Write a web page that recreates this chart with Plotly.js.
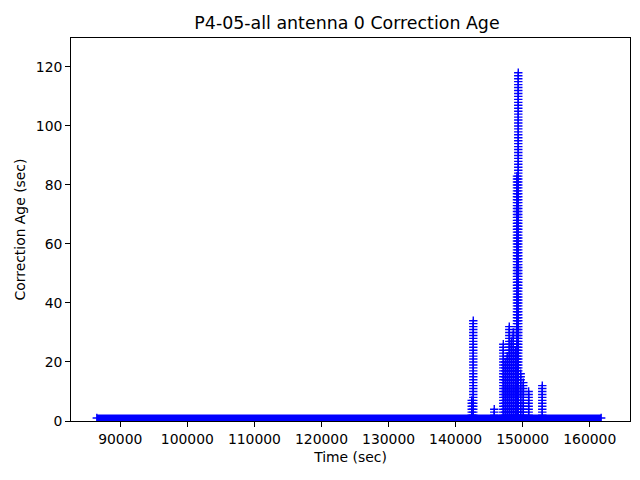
<!DOCTYPE html>
<html>
<head>
<meta charset="utf-8">
<script src="https://cdn.plot.ly/plotly-3.0.1.min.js"></script>
<style>html,body{margin:0;padding:0;background:#fff;}#chart{width:640px;height:480px;}</style>
</head>
<body>
<div id="chart"></div>
<script>
// Dense run of samples with correction age 1 s (drawn as a continuous band of markers)
const baselineTime = [86500, 161700];
const baselineAge = [1, 1];

// Outage spikes: time (sec) of each spike and the correction ages recorded in it
const spikeTimes = [142400, 142630, 145760, 147110, 147400, 147700, 148000, 148300, 148600, 148900, 149150, 149340, 149700, 150090, 150890, 152920];
const spikeAges = [
  [2,3,4,5,6,7],
  [2,3,4,5,6,7,8,9,10,11,12,13,14,15,16,17,18,19,20,21,22,23,24,25,26,27,28,29,30,31,32,33,34],
  [2,3,4],
  [2,3,4,5,6,7,8,9,10,11,12,13,14,15,16,17,18,19,20,21,22,23,24,25,26],
  [2,3,4,5,6,7,8,9,10,11,12,13,14,15,16,17,18,19,20],
  [2,3,4,5,6,7,8,9,10,11,12,13,14,15,16,17,18,19,20,21,22],
  [2,3,4,5,6,7,8,9,10,11,12,13,14,15,16,17,18,19,20,21,22,23,24,25,26,27,28,29,30,31,32],
  [2,3,4,5,6,7,8,9,10,11,12,13,14,15,16,17,18,19,20,21,22,23,24,25,26,27],
  [2,3,4,5,6,7,8,9,10,11,12,13,14,15,16,17,18,19,20,21,22,23,24,25,26,27,28,29,30],
  [2,3,4,5,6,7,8,9,10,11,12,13,14,15,16,17,18,19,20,21,22,23,24],
  [2,3,4,5,6,7,8,9,10,11,12,13,14,15,16,17,18,19,20,21,22,23,24,25,26,27,28,29,30,31,32,33,34,35,36,37,38,39,40,41,42,43,44,45,46,47,48,49,50,51,52,53,54,55,56,57,58,59,60,61,62,63,64,65,66,67,68,69,70,71,72,73,74,75,76,77,78,79,80,81,82,83],
  [2,3,4,5,6,7,8,9,10,11,12,13,14,15,16,17,18,19,20,21,22,23,24,25,26,27,28,29,30,31,32,33,34,35,36,37,38,39,40,41,42,43,44,45,46,47,48,49,50,51,52,53,54,55,56,57,58,59,60,61,62,63,64,65,66,67,68,69,70,71,72,73,74,75,76,77,78,79,80,81,82,83,84,85,86,87,88,89,90,91,92,93,94,95,96,97,98,99,100,101,102,103,104,105,106,107,108,109,110,111,112,113,114,115,116,117,118],
  [2,3,4,5,6,7,8,9,10,11,12,13,14,15,16],
  [2,3,4,5,6,7,8,9,10,11,12,13],
  [2,3,4,5,6,7,8,9,10],
  [2,3,4,5,6,7,8,9,10,11,12]
];

const xTicks = [90000, 100000, 110000, 120000, 130000, 140000, 150000, 160000];
const yTicks = [0, 20, 40, 60, 80, 100, 120];

const spikeX = [], spikeY = [];
spikeTimes.forEach((t, i) => {
  spikeAges[i].forEach(a => { spikeX.push(t); spikeY.push(a); });
});

const font = {family: 'DejaVu Sans', color: '#000'};
const traces = [
  {
    x: baselineTime, y: baselineAge, type: 'scatter', mode: 'lines+markers',
    line: {color: '#0000ff', width: 7},
    marker: {symbol: 'cross-thin', size: 6, line: {color: '#0000ff', width: 1.4}},
    cliponaxis: true, hoverinfo: 'skip'
  },
  {
    x: spikeX, y: spikeY, type: 'scatter', mode: 'markers',
    marker: {symbol: 'cross-thin', size: 6, color: '#0000ff', line: {color: '#0000ff', width: 1.4}},
    cliponaxis: true
  }
];

const layout = {
  width: 640, height: 480,
  margin: {l: 71, r: 10, t: 38, b: 59},
  paper_bgcolor: '#fff', plot_bgcolor: '#fff',
  showlegend: false,
  font: font,
  title: {
    text: 'P4-05-all antenna 0 Correction Age',
    font: {family: 'DejaVu Sans', size: 17.4, color: '#000'},
    x: 0.4937, xanchor: 'center', xref: 'paper',
    y: 1 - 23/480, yanchor: 'middle', yref: 'container'
  },
  xaxis: {
    range: [82650, 166000],
    tickvals: xTicks, ticktext: xTicks.map(String),
    ticks: 'outside', ticklen: 4.9, tickwidth: 1, tickcolor: '#000',
    showline: true, mirror: true, linecolor: '#000', linewidth: 1,
    showgrid: false, zeroline: false,
    tickfont: {family: 'DejaVu Sans', size: 13.9, color: '#000'},
    title: {text: 'Time (sec)', font: {family: 'DejaVu Sans', size: 13.9, color: '#000'}, standoff: 6}
  },
  yaxis: {
    range: [0, 129.8],
    tickvals: yTicks, ticktext: yTicks.map(String),
    ticks: 'outside', ticklen: 4.9, tickwidth: 1, tickcolor: '#000',
    showline: true, mirror: true, linecolor: '#000', linewidth: 1,
    showgrid: false, zeroline: false,
    tickfont: {family: 'DejaVu Sans', size: 13.9, color: '#000'},
    title: {text: 'Correction Age (sec)', font: {family: 'DejaVu Sans', size: 13.9, color: '#000'}, standoff: 6}
  }
};

Plotly.newPlot('chart', traces, layout, {staticPlot: true, displayModeBar: false});
</script>
</body>
</html>
